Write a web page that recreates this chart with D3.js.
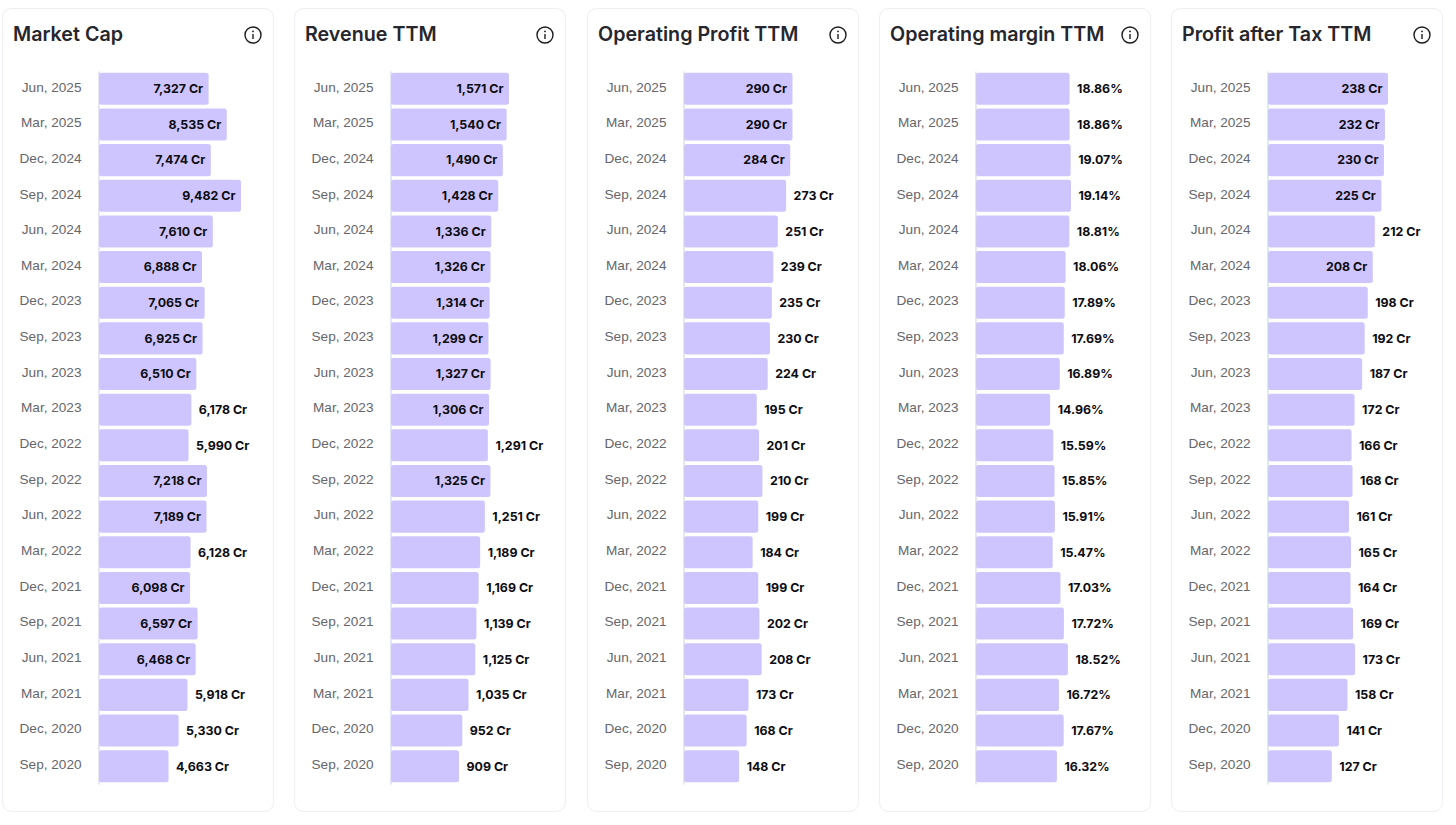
<!DOCTYPE html>
<html>
<head>
<meta charset="utf-8">
<script src="https://cdn.jsdelivr.net/npm/d3@7"></script>
<style>
  html, body { margin: 0; background: #fff; }
  svg { display: block; font-family: Inter, "Noto Sans", sans-serif; }
  .tick text { fill: #66666c; font-size: 13.6px; font-weight: 400; }
</style>
</head>
<body>
<svg id="chart" width="1456" height="825"></svg>
<script>
const quarters = ['Jun, 2025', 'Mar, 2025', 'Dec, 2024', 'Sep, 2024', 'Jun, 2024', 'Mar, 2024', 'Dec, 2023', 'Sep, 2023', 'Jun, 2023', 'Mar, 2023',
  'Dec, 2022', 'Sep, 2022', 'Jun, 2022', 'Mar, 2022', 'Dec, 2021', 'Sep, 2021', 'Jun, 2021', 'Mar, 2021', 'Dec, 2020', 'Sep, 2020'];

const titles = ['Market Cap', 'Revenue TTM', 'Operating Profit TTM', 'Operating margin TTM', 'Profit after Tax TTM'];

const marketCap = [7327, 8535, 7474, 9482, 7610, 6888, 7065, 6925, 6510, 6178, 5990, 7218, 7189, 6128, 6098, 6597, 6468, 5918, 5330, 4663];
const revenue = [1571, 1540, 1490, 1428, 1336, 1326, 1314, 1299, 1327, 1306, 1291, 1325, 1251, 1189, 1169, 1139, 1125, 1035, 952, 909];
const opProfit = [290, 290, 284, 273, 251, 239, 235, 230, 224, 195, 201, 210, 199, 184, 199, 202, 208, 173, 168, 148];
const opMargin = [18.86, 18.86, 19.07, 19.14, 18.81, 18.06, 17.89, 17.69, 16.89, 14.96, 15.59, 15.85, 15.91, 15.47, 17.03, 17.72, 18.52, 16.72, 17.67, 16.32];
const pat = [238, 232, 230, 225, 212, 208, 198, 192, 187, 172, 166, 168, 161, 165, 164, 169, 173, 158, 141, 127];

// quarters whose value label sits inside the bar
const insideMarketCap = ['Jun, 2025', 'Mar, 2025', 'Dec, 2024', 'Sep, 2024', 'Jun, 2024', 'Mar, 2024', 'Dec, 2023', 'Sep, 2023', 'Jun, 2023', 'Sep, 2022', 'Jun, 2022', 'Dec, 2021', 'Sep, 2021', 'Jun, 2021'];
const insideRevenue = ['Jun, 2025', 'Mar, 2025', 'Dec, 2024', 'Sep, 2024', 'Jun, 2024', 'Mar, 2024', 'Dec, 2023', 'Sep, 2023', 'Jun, 2023', 'Mar, 2023', 'Sep, 2022'];
const insideOpProfit = ['Jun, 2025', 'Mar, 2025', 'Dec, 2024'];
const insideOpMargin = [];
const insidePat = ['Jun, 2025', 'Mar, 2025', 'Dec, 2024', 'Sep, 2024', 'Mar, 2024'];

const seriesList = [marketCap, revenue, opProfit, opMargin, pat];
const insideList = [insideMarketCap, insideRevenue, insideOpProfit, insideOpMargin, insidePat];

const panelLeft = [2, 294, 587, 879, 1171];
const panelWidth = 271;
const panelTop = 8;
const panelHeight = 803;
const axisOffset = 96.5;
// pixel length of the longest bar in each panel
const maxBarWidth = [142.5, 118.5, 109, 95.5, 120.5];

const svg = d3.select('#chart');

const yScale = d3.scaleBand()
  .domain(quarters)
  .range([71, 784])
  .paddingInner(0.1)
  .paddingOuter(0.05);

const cr = d3.format(',');

seriesList.forEach((values, i) => {
  const isMargin = values === opMargin;
  const label = v => isMargin ? v.toFixed(2) + '%' : cr(v) + ' Cr';

  const panel = svg.append('g')
    .attr('transform', `translate(${panelLeft[i]}, 0)`);

  panel.append('rect')
    .attr('x', 0.5)
    .attr('y', panelTop + 0.5)
    .attr('width', panelWidth)
    .attr('height', panelHeight)
    .attr('rx', 9)
    .attr('fill', '#fff')
    .attr('stroke', '#eeeef3');

  panel.append('text')
    .attr('x', 11)
    .attr('y', 41)
    .attr('font-size', 19.7)
    .attr('font-weight', 600)
    .attr('fill', '#26262c')
    .text(titles[i]);

  // info icon
  const icon = panel.append('g')
    .attr('transform', `translate(${panelWidth - 20}, 35)`);
  icon.append('circle').attr('r', 8).attr('fill', 'none').attr('stroke', '#1c1c20').attr('stroke-width', 1.4);
  icon.append('line').attr('y1', -1).attr('y2', 4).attr('stroke', '#1c1c20').attr('stroke-width', 1.4);
  icon.append('circle').attr('cy', -3.6).attr('r', 0.9).attr('fill', '#1c1c20');

  const xScale = d3.scaleLinear()
    .domain([0, d3.max(values)])
    .range([axisOffset, axisOffset + maxBarWidth[i]]);

  const rows = quarters.map((q, j) => ({ q, v: values[j], inside: insideList[i].includes(q) }));

  const chart = panel.append('g');

  chart.selectAll('.bar')
    .data(rows)
    .enter()
    .append('rect')
    .attr('class', 'bar')
    .attr('x', xScale(0) + 0.5)
    .attr('y', d => yScale(d.q))
    .attr('width', d => xScale(d.v) - xScale(0) - 0.5)
    .attr('height', yScale.bandwidth())
    .attr('rx', 2.5)
    .attr('fill', '#cfc5fe');

  const yAxis = d3.axisLeft(yScale).tickSize(0).tickPadding(17);
  const axisG = chart.append('g')
    .attr('transform', `translate(${axisOffset}, 0)`)
    .call(yAxis);
  axisG.select('.domain').attr('stroke', '#c9cfe6').attr('stroke-width', 1);
  axisG.selectAll('.tick text').attr('dy', '0.2em').style('font-family', 'inherit');

  chart.selectAll('.value')
    .data(rows)
    .enter()
    .append('text')
    .attr('class', 'value')
    .attr('x', d => d.inside ? xScale(d.v) - 5.5 : xScale(d.v) + 7.5)
    .attr('y', d => yScale(d.q) + yScale.bandwidth() / 2)
    .attr('dy', '0.35em')
    .attr('text-anchor', d => d.inside ? 'end' : 'start')
    .attr('font-size', 12.4)
    .attr('font-weight', 700)
    .attr('fill', '#0d0d12')
    .text(d => label(d.v));
});
</script>
</body>
</html>
